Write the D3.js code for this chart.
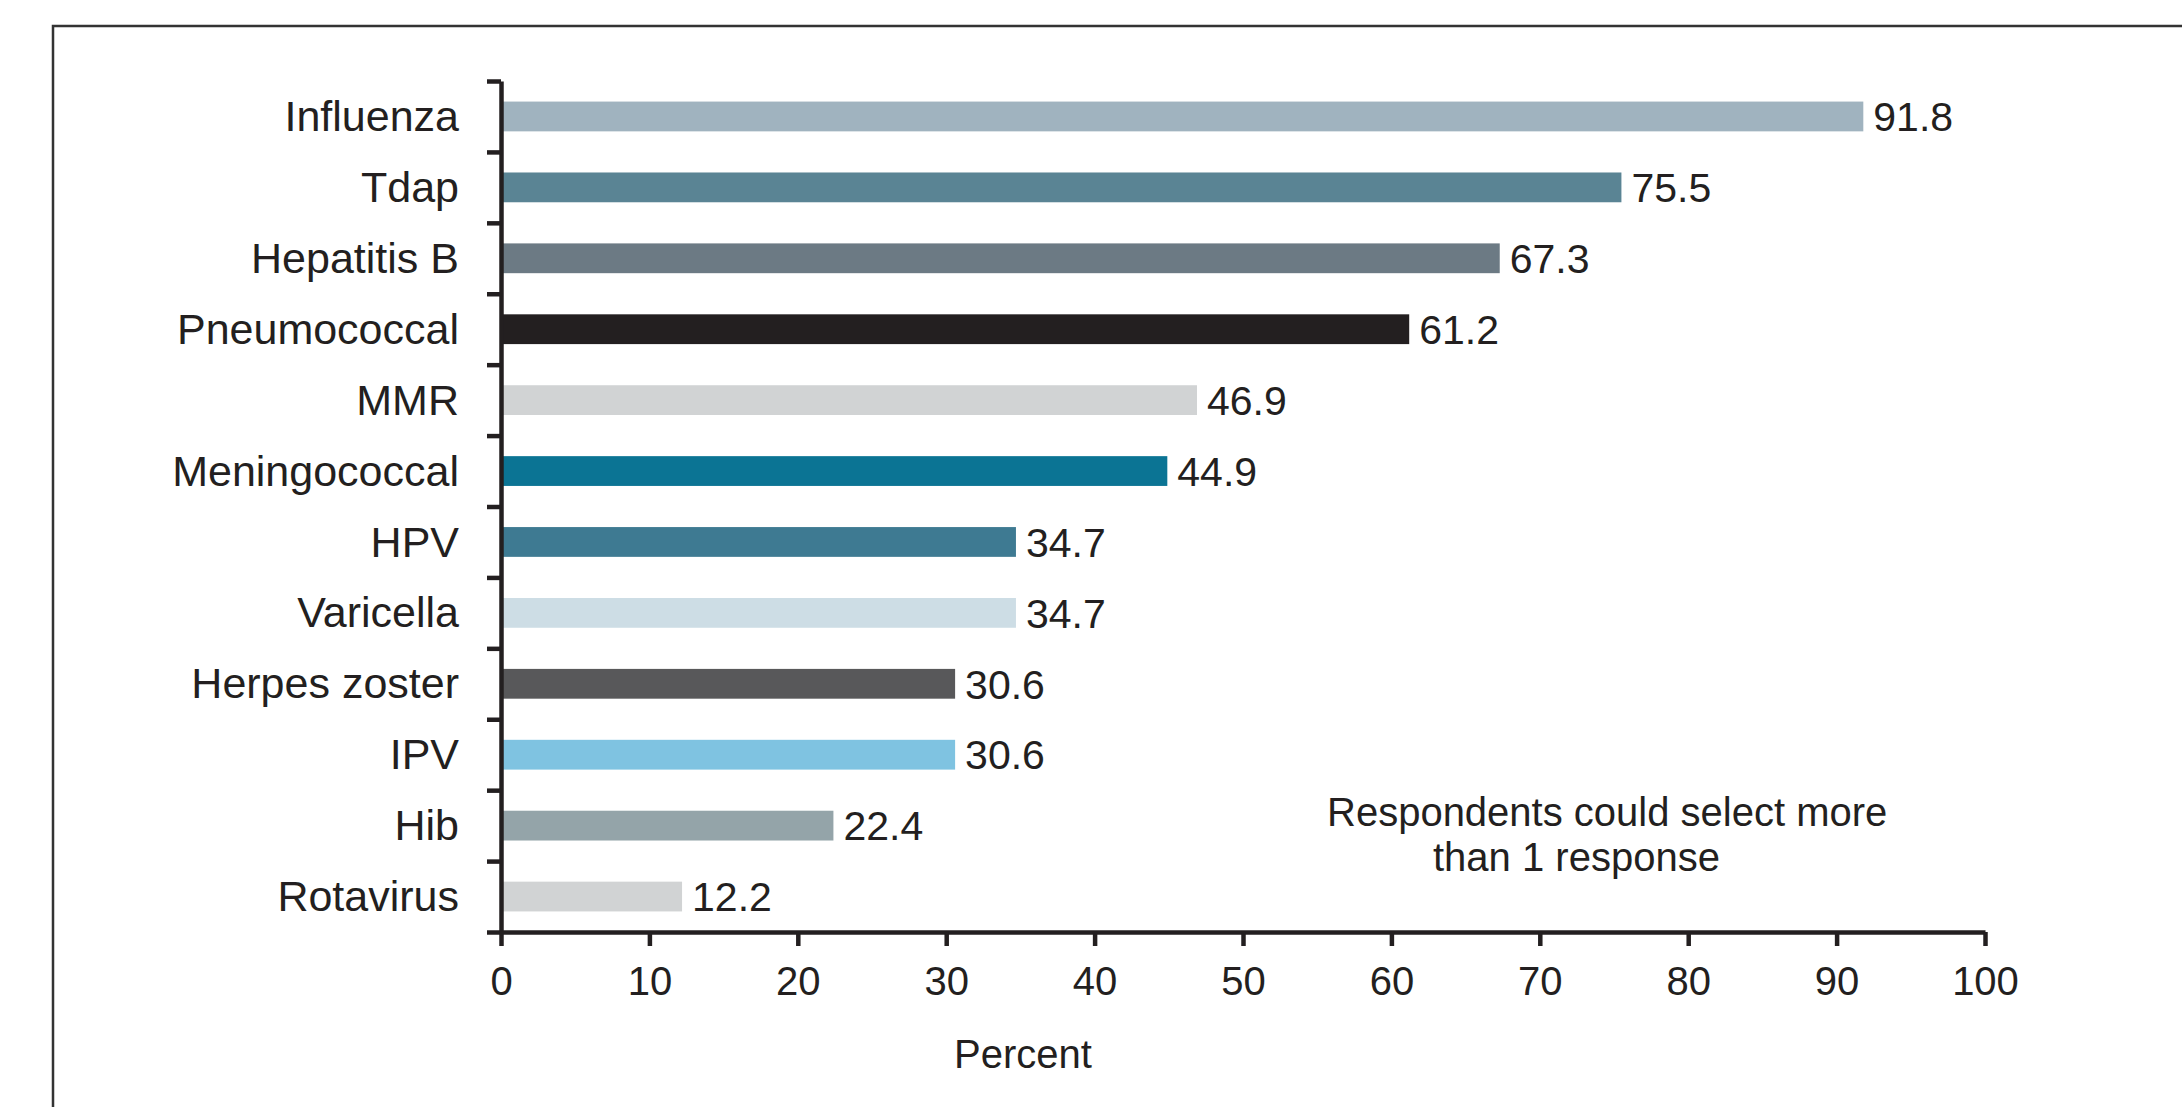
<!DOCTYPE html>
<html>
<head>
<meta charset="utf-8">
<script src="https://cdn.jsdelivr.net/npm/d3@7"></script>
<style>
  html, body { margin: 0; padding: 0; background: #ffffff; }
  svg { display: block; }
  text { font-family: "Liberation Sans", Arial, Helvetica, sans-serif; fill: #231f20; }
</style>
</head>
<body>
<script>
const categories = ["Influenza", "Tdap", "Hepatitis B", "Pneumococcal", "MMR", "Meningococcal",
  "HPV", "Varicella", "Herpes zoster", "IPV", "Hib", "Rotavirus"];
const values = [91.8, 75.5, 67.3, 61.2, 46.9, 44.9, 34.7, 34.7, 30.6, 30.6, 22.4, 12.2];
const barColors = ["#a0b3bf", "#5a8494", "#6c7a84", "#231f20", "#d1d3d4", "#0b7494",
  "#3e7a92", "#cddde5", "#58585a", "#7fc3e1", "#94a4a9", "#d1d3d4"];
const xTicks = [0, 10, 20, 30, 40, 50, 60, 70, 80, 90, 100];
const xTitle = "Percent";
const noteLines = ["Respondents could select more", "than 1 response"];

const W = 2182, H = 1107;
const svg = d3.select("body").append("svg").attr("width", W).attr("height", H);

// frame (top and left edges visible, continues beyond the picture)
svg.append("path")
  .attr("d", `M53,${H + 10} L53,26 L${W + 10},26`)
  .attr("fill", "none").attr("stroke", "#333333").attr("stroke-width", 2.5);

const mLeft = 501, mRight = 1985, mTop = 81, mBottom = 932;
const x = d3.scaleLinear().domain([0, 100]).range([mLeft, mRight]);
const yIdx = d3.scaleLinear().domain([0, categories.length]).range([mTop, mBottom]);
const y = d3.scaleBand().domain(categories).range([mTop, mBottom]).paddingInner(0.58).paddingOuter(0.29);

// bars
svg.append("g").selectAll("rect").data(categories).join("rect")
  .attr("x", x(0))
  .attr("y", d => y(d))
  .attr("width", (d, i) => x(values[i]) - x(0))
  .attr("height", y.bandwidth())
  .attr("fill", (d, i) => barColors[i]);

// value labels
svg.append("g").selectAll("text").data(categories).join("text")
  .attr("x", (d, i) => x(values[i]) + 10)
  .attr("y", d => y(d) + y.bandwidth() / 2)
  .attr("dy", "0.36em")
  .attr("font-size", 41)
  .text((d, i) => values[i].toFixed(1));

// category labels
svg.append("g").selectAll("text").data(categories).join("text")
  .attr("x", 459)
  .attr("y", d => y(d) + y.bandwidth() / 2)
  .attr("dy", "0.34em")
  .attr("text-anchor", "end")
  .attr("font-size", 43)
  .text(d => d);

// y axis with ticks at band boundaries
const yAxis = svg.append("g").attr("transform", `translate(${mLeft},0)`)
  .call(d3.axisLeft(yIdx).tickValues(d3.range(categories.length + 1)).tickSize(14).tickSizeOuter(0).tickFormat(""));
yAxis.selectAll("path, line").attr("stroke", "#231f20").attr("stroke-width", 4.5);

// x axis
const xAxis = svg.append("g").attr("transform", `translate(0,${mBottom})`)
  .call(d3.axisBottom(x).tickValues(xTicks).tickSize(14).tickSizeOuter(0).tickPadding(21));
xAxis.selectAll("path, line").attr("stroke", "#231f20").attr("stroke-width", 4.5);
xAxis.selectAll("text").attr("font-size", 40).attr("fill", "#231f20")
  .attr("font-family", "'Liberation Sans', Arial, sans-serif");

// x title
svg.append("text")
  .attr("x", 1023).attr("y", 1068)
  .attr("text-anchor", "middle").attr("font-size", 40)
  .text(xTitle);

// note
svg.append("text").attr("x", 1327).attr("y", 826).attr("font-size", 40).text(noteLines[0]);
svg.append("text").attr("x", 1433).attr("y", 871).attr("font-size", 40).text(noteLines[1]);
</script>
</body>
</html>
